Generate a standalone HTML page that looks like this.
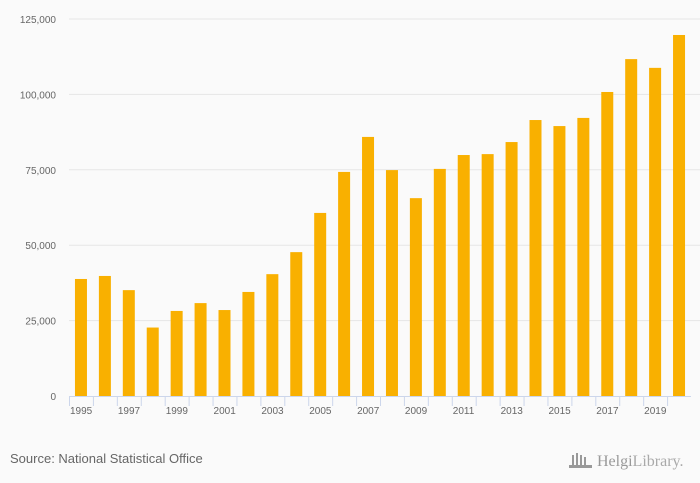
<!DOCTYPE html>
<html><head><meta charset="utf-8"><style>
body{margin:0;background:#fafafa;font-family:"Liberation Sans",sans-serif}
</style></head><body>
<svg id="c" width="700" height="483" style="display:block">
<rect width="700" height="483" fill="#fafafa"/>
<g id="grid"></g><g id="bars"></g><g id="xax"></g>
<text x="10" y="463" font-size="13" fill="#666">Source: National Statistical Office</text>
<g>
<g fill="#999"><rect x="572" y="455" width="2" height="11"/><rect x="576" y="453" width="2" height="13"/><rect x="580" y="455" width="2" height="11"/><rect x="584" y="457" width="2" height="9"/><rect x="569" y="465" width="23" height="3"/></g>
<text x="597" y="466" font-size="16" fill="#999" font-family="Liberation Serif,serif">Helgi<tspan font-weight="normal" fill="#aaa">Library.</tspan></text>
</g>
</svg>
<script>
const years=["1995","1996","1997","1998","1999","2000","2001","2002","2003","2004","2005","2006","2007","2008","2009","2010","2011","2012","2013","2014","2015","2016","2017","2018","2019","2020"];
const values=[38800,39800,35100,22700,28200,30800,28500,34500,40400,47700,60700,74300,85900,74900,65600,75300,79900,80200,84200,91500,89500,92200,100800,111700,108800,119700];
const yTicks=[0,25000,50000,75000,100000,125000];
const NS="http://www.w3.org/2000/svg";
const x0=69,x1=691,y0=396,y1=19,maxV=125000;
const bw=(x1-x0)/years.length;
const X=i=>x0+i*bw;
const Y=v=>y0-(v/maxV)*(y0-y1);
function mk(t,a,p){const e=document.createElementNS(NS,t);for(const k in a)e.setAttribute(k,a[k]);p.appendChild(e);return e;}
const grid=document.getElementById('grid');
yTicks.forEach(t=>{
 if(t>0){const l=mk('line',{x1:x0,x2:x1+9,y1:Y(t),y2:Y(t),stroke:'#e6e6e6'},grid);
 
 }
 const tx=mk('text',{x:56,y:Y(t)+4,'text-anchor':'end','font-size':'10',fill:'#666'},grid);
 tx.textContent=t.toLocaleString('en-US');
 
 
});
const bars=document.getElementById('bars');
values.forEach((v,i)=>{
 const r=mk('rect',{x:X(i)+bw/2-6,y:Y(v),width:12,height:y0-Y(v),fill:'#f9b000'},bars);
 
 
});
const xa=document.getElementById('xax');
const al=mk('line',{x1:x0,x2:x1,y1:y0+0.5,y2:y0+0.5,stroke:'#ccd6eb'},xa);


years.forEach((y,i)=>{
 mk('line',{x1:X(i)+0.5,x2:X(i)+0.5,y1:y0,y2:y0+10,stroke:'#ccd6eb'},xa);
 if(i%2===0){const t=mk('text',{x:X(i)+1,y:y0+18,'font-size':'10',fill:'#666'},xa);
 t.textContent=y;
 
 }
});
</script>
</body></html>
